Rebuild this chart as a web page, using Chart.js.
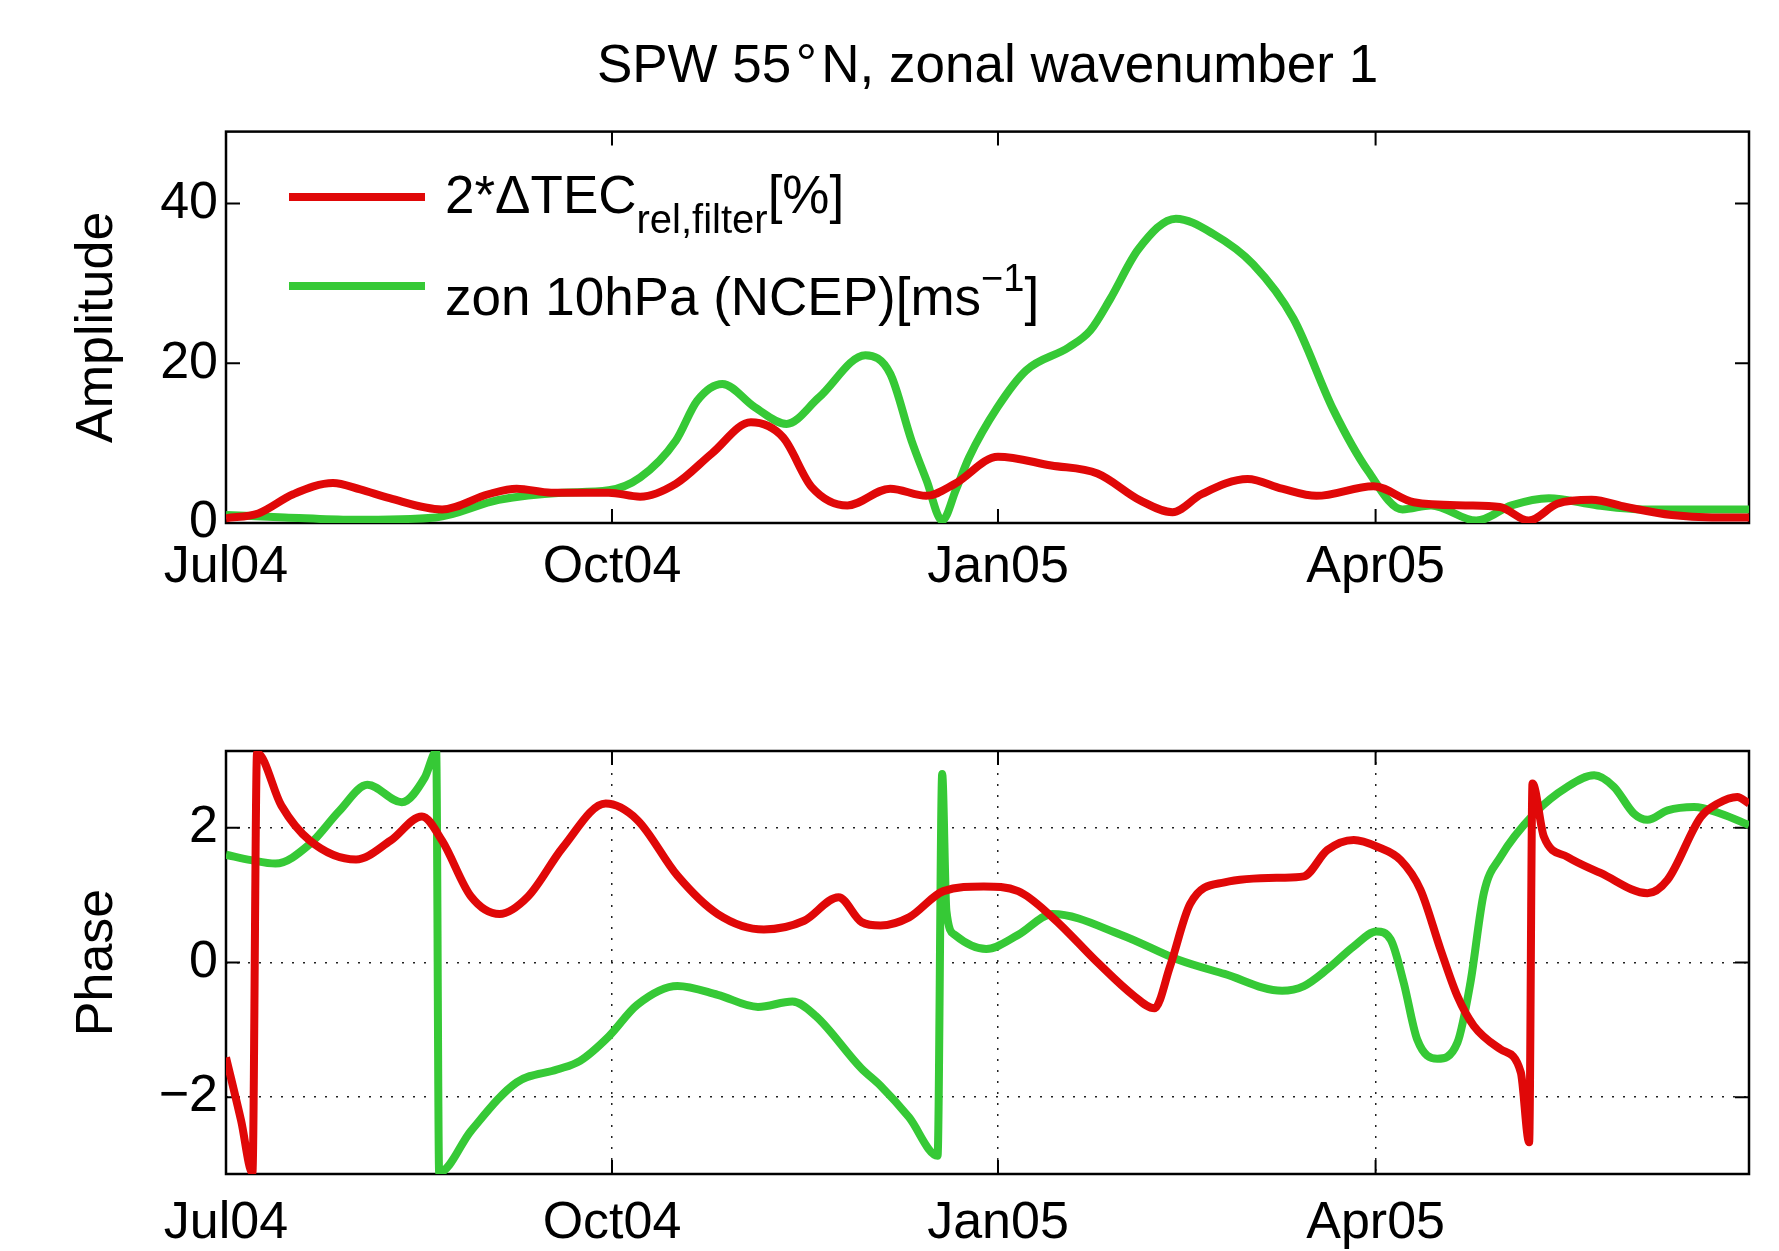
<!DOCTYPE html>
<html>
<head>
<meta charset="utf-8">
<title>SPW 55°N, zonal wavenumber 1</title>
<script src="https://cdn.jsdelivr.net/npm/chart.js@4.4.0/dist/chart.umd.min.js"></script>
<style>
  html, body { margin: 0; padding: 0; background: #fff; }
  #wrap { position: relative; width: 1779px; height: 1251px; }
  #ampChart { position: absolute; left: 0; top: 0; }
  #phaseChart { position: absolute; left: 0; top: 600px; }
</style>
</head>
<body>
<div id="wrap">
  <canvas id="ampChart" width="1779" height="600"></canvas>
  <canvas id="phaseChart" width="1779" height="651"></canvas>
</div>
<script>
// x axis = days since 1 Jul 2004
const tickDays = [0, 92, 184, 274];
const tickLabels = ['Jul04', 'Oct04', 'Jan05', 'Apr05'];
const ampTicks = [0, 20, 40];
const phaseTicks = [-2, 0, 2];

// 2*dTEC amplitude (red)
const tecAmpDays = [0, 7.7, 16, 25.5, 32, 39, 51.5, 62.5, 69.3, 77.5, 91.2, 98.7, 107.2, 115.8, 125.1, 132.8, 139.6, 148.1, 158.3, 166.9, 173.7, 184, 196.7, 207.7, 218, 225.6, 232.5, 243.5, 251.7, 259.9, 273.5, 283.1, 295.4, 303.6, 310.5, 317.3, 325.5, 333.7, 344.6, 354.2, 363];
const tecAmp = [0.6, 1.2, 3.6, 5.0, 4.2, 3.1, 1.7, 3.6, 4.3, 3.8, 3.8, 3.3, 4.9, 8.7, 12.6, 10.7, 4.5, 2.2, 4.3, 3.4, 4.9, 8.3, 7.2, 6.2, 2.8, 1.35, 3.6, 5.5, 4.3, 3.4, 4.6, 2.6, 2.2, 2.0, 0.3, 2.4, 2.9, 2.0, 1.0, 0.7, 0.7];

// zonal wind 10hPa amplitude (green)
const zonAmpDays = [0, 14, 30, 50, 65, 80, 91.2, 98.7, 107.2, 112.3, 118.3, 126, 133.6, 141.3, 152.4, 158.3, 163.4, 167, 170.7, 174, 177.1, 183.9, 190.7, 200.9, 206, 210.7, 217.5, 226.4, 235.3, 244.8, 254.4, 264, 272.2, 280.4, 287.2, 298, 306.4, 315.3, 326.9, 337.8, 347.4, 363];
const zonAmp = [1.0, 0.7, 0.4, 0.7, 2.9, 3.8, 4.1, 5.7, 10.3, 15.3, 17.4, 14.5, 12.4, 15.7, 21.0, 18.7, 10.3, 5.3, 0.3, 4.2, 8.2, 14.5, 19.1, 22.0, 24.1, 28.0, 34.3, 38.1, 36.2, 32.4, 25.6, 14.1, 6.5, 1.7, 2.2, 0.3, 2.2, 3.1, 2.2, 1.7, 1.7, 1.7];

// phases
const tecPhaseDays = [0, 3.6, 6.3, 7.4, 13.2, 20, 31, 39.2, 46.7, 51.5, 58.4, 65.2, 72, 80.3, 90.5, 98, 107.6, 117.2, 128.2, 137.8, 146, 151.5, 156, 162.8, 171, 180.6, 188.8, 197, 207.9, 216.1, 221.3, 225, 229.8, 238, 251.7, 256.9, 262.5, 268.8, 274.4, 280, 284.7, 289.5, 293.5, 297.4, 303.8, 308.6, 310.6, 311.4, 314.1, 319.7, 327.6, 338.8, 343.6, 351.5, 355.5, 360.2, 363];
const tecPhase = [-1.41, -2.35, -3.12, 3.11, 2.33, 1.81, 1.53, 1.81, 2.17, 1.81, 0.98, 0.72, 0.98, 1.71, 2.36, 2.12, 1.29, 0.72, 0.49, 0.62, 0.97, 0.6, 0.55, 0.67, 1.06, 1.13, 1.06, 0.67, -0.01, -0.48, -0.68, -0.06, 0.87, 1.19, 1.26, 1.28, 1.67, 1.82, 1.72, 1.52, 1.08, 0.19, -0.50, -0.94, -1.29, -1.63, -2.67, 2.66, 1.87, 1.57, 1.33, 1.03, 1.23, 2.16, 2.36, 2.46, 2.36];

const zonPhaseDays = [0, 6, 11.8, 20, 27, 33.7, 41.9, 47.4, 50.1, 50.8, 58.4, 69.3, 78.9, 84.4, 91.2, 98, 107.6, 117.2, 126.8, 135, 140.5, 151.4, 156, 162.8, 169.6, 170.7, 171.7, 173.7, 181.2, 188.8, 197, 213.4, 227, 238, 251.7, 256.9, 262.5, 268.8, 274.2, 277.6, 280.7, 283.9, 288.7, 293.5, 296.6, 299.8, 303.8, 311.8, 319.7, 326.1, 330.8, 335.6, 338.8, 343.6, 349.9, 356.3, 363];
const zonPhase = [1.60, 1.52, 1.47, 1.76, 2.25, 2.64, 2.38, 2.75, 3.13, -3.12, -2.50, -1.78, -1.59, -1.46, -1.10, -0.63, -0.35, -0.48, -0.66, -0.58, -0.79, -1.57, -1.83, -2.30, -2.87, 2.80, 0.77, 0.41, 0.20, 0.41, 0.72, 0.41, 0.04, -0.17, -0.42, -0.35, -0.10, 0.24, 0.46, 0.34, -0.30, -1.14, -1.43, -1.19, -0.30, 1.03, 1.57, 2.21, 2.61, 2.78, 2.61, 2.21, 2.12, 2.26, 2.31, 2.21, 2.04];

const RED = '#e00808';
const GREEN = '#36c936';
const FAMILY = "'Liberation Sans', Arial, Helvetica, sans-serif";
const TICK_LEN = 14;

Chart.defaults.font.family = FAMILY;
Chart.defaults.color = '#000';

const pts = (xs, ys) => xs.map((x, i) => ({ x: x, y: ys[i] }));

function lineSet(label, xs, ys, color) {
    return {
        label: label,
        data: pts(xs, ys),
        borderColor: color,
        borderWidth: 8,
        pointRadius: 0,
        fill: false,
        cubicInterpolationMode: 'monotone'
    };
}

// box + inward ticks like matlab axes
const matlabAxes = {
    id: 'matlabAxes',
    beforeDatasetsDraw(chart) {
        const { ctx, chartArea: a, scales } = chart;
        ctx.save();
        ctx.strokeStyle = '#000';
        ctx.lineWidth = 2.5;
        ctx.strokeRect(a.left, a.top, a.right - a.left, a.bottom - a.top);
        ctx.lineWidth = 2;
        ctx.beginPath();
        scales.x.ticks.forEach(t => {
            const px = scales.x.getPixelForValue(t.value);
            ctx.moveTo(px, a.bottom);
            ctx.lineTo(px, a.bottom - TICK_LEN);
            ctx.moveTo(px, a.top);
            ctx.lineTo(px, a.top + TICK_LEN);
        });
        scales.y.ticks.forEach(t => {
            const py = scales.y.getPixelForValue(t.value);
            ctx.moveTo(a.left, py);
            ctx.lineTo(a.left + TICK_LEN, py);
            ctx.moveTo(a.right, py);
            ctx.lineTo(a.right - TICK_LEN, py);
        });
        ctx.stroke();
        ctx.restore();
    }
};

// legend with sub/superscripts
function drawRich(ctx, x, y, parts) {
    parts.forEach(p => {
        ctx.font = p.size + 'px ' + FAMILY;
        ctx.fillText(p.t, x, y + (p.dy || 0));
        x += ctx.measureText(p.t).width;
    });
}

const ampLegend = {
    id: 'ampLegend',
    afterDraw(chart) {
        const ctx = chart.ctx;
        ctx.save();
        ctx.lineWidth = 8;
        ctx.strokeStyle = RED;
        ctx.beginPath();
        ctx.moveTo(289, 197);
        ctx.lineTo(425, 197);
        ctx.stroke();
        ctx.strokeStyle = GREEN;
        ctx.beginPath();
        ctx.moveTo(289, 286);
        ctx.lineTo(425, 286);
        ctx.stroke();
        ctx.fillStyle = '#000';
        ctx.textBaseline = 'alphabetic';
        ctx.textAlign = 'left';
        drawRich(ctx, 445, 213, [
            { t: '2*\u0394TEC', size: 53 },
            { t: 'rel,filter', size: 40, dy: 20 },
            { t: '[%]', size: 53 }
        ]);
        drawRich(ctx, 445, 315, [
            { t: 'zon 10hPa (NCEP)[ms', size: 53 },
            { t: '\u22121', size: 38, dy: -24 },
            { t: ']', size: 53 }
        ]);
        ctx.restore();
    }
};

function xScale(labelPad) {
    return {
        type: 'linear',
        min: 0,
        max: 363,
        afterBuildTicks: s => { s.ticks = tickDays.map(v => ({ value: v })); },
        ticks: {
            autoSkip: false,
            maxRotation: 0,
            padding: labelPad,
            font: { size: 52 },
            callback: (v, i) => tickLabels[i]
        },
        grid: { display: false, drawTicks: false },
        border: { display: false },
        afterFit: s => { s.height = 77; }
    };
}

new Chart(document.getElementById('ampChart'), {
    type: 'line',
    data: {
        datasets: [
            lineSet('2*\u0394TEC rel,filter [%]', tecAmpDays, tecAmp, RED),
            lineSet('zon 10hPa (NCEP) [ms\u207B\u00B9]', zonAmpDays, zonAmp, GREEN)
        ]
    },
    options: {
        responsive: false,
        animation: false,
        layout: { padding: { left: 0, right: 30, top: 0, bottom: 0 } },
        plugins: {
            legend: { display: false },
            tooltip: { enabled: false },
            title: {
                display: true,
                fullSize: false,
                text: 'SPW 55\u200A\u00B0\u200AN, zonal wavenumber 1',
                color: '#000',
                font: { size: 53, weight: 'normal' },
                padding: { top: 36, bottom: 32 }
            }
        },
        scales: {
            x: xScale(13),
            y: {
                min: 0,
                max: 49,
                afterBuildTicks: s => { s.ticks = ampTicks.map(v => ({ value: v })); },
                ticks: { padding: 8, font: { size: 52 } },
                grid: { display: false, drawTicks: false },
                border: { display: false },
                title: { display: true, text: 'Amplitude', font: { size: 52 }, padding: { top: 66, bottom: 0 } },
                afterFit: s => { s.width = 226; }
            }
        }
    },
    plugins: [matlabAxes, ampLegend]
});

new Chart(document.getElementById('phaseChart'), {
    type: 'line',
    data: {
        datasets: [
            lineSet('TEC phase', tecPhaseDays, tecPhase, RED),
            lineSet('zon phase', zonPhaseDays, zonPhase, GREEN)
        ]
    },
    options: {
        responsive: false,
        animation: false,
        layout: { padding: { left: 0, right: 30, top: 151, bottom: 0 } },
        plugins: {
            legend: { display: false },
            tooltip: { enabled: false }
        },
        scales: {
            x: Object.assign(xScale(18), {
                grid: { display: true, drawTicks: false, color: '#222', lineWidth: 1.5 },
                border: { display: false, dash: [2, 9] }
            }),
            y: {
                min: -Math.PI,
                max: Math.PI,
                afterBuildTicks: s => { s.ticks = phaseTicks.map(v => ({ value: v })); },
                ticks: {
                    padding: 8,
                    font: { size: 52 },
                    callback: v => (v < 0 ? '\u2212' + Math.abs(v) : String(v))
                },
                grid: { display: true, drawTicks: false, color: '#222', lineWidth: 1.5 },
                border: { display: false, dash: [2, 9] },
                title: { display: true, text: 'Phase', font: { size: 52 }, padding: { top: 66, bottom: 0 } },
                afterFit: s => { s.width = 226; }
            }
        }
    },
    plugins: [matlabAxes]
});
</script>
</body>
</html>
